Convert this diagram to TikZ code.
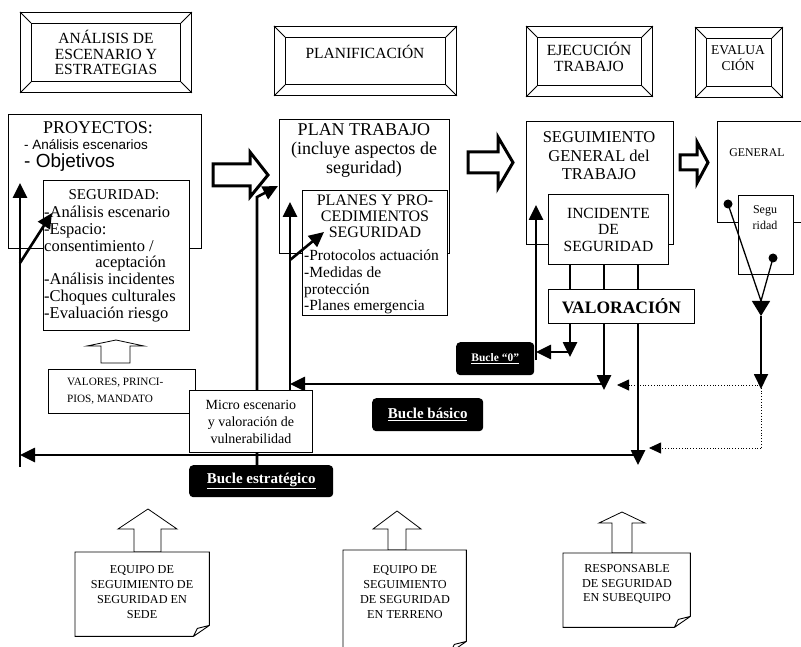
\documentclass[tikz,border=0pt]{standalone}
\usepackage{fontspec}
\setmainfont{Liberation Serif}
\newfontfamily\arialfont{Liberation Sans}
\usetikzlibrary{arrows.meta,positioning}
\newcommand\fsz[2]{\fontsize{#1}{#2}\selectfont}

\tikzset{
  box/.style={draw, fill=white, line width=0.9pt, anchor=north west, inner sep=0pt, align=center},
  hdr/.style={box, fill=none},
  frame/.style={line width=0.9pt},
  txt/.style={inner sep=0pt, align=center},
  ltxt/.style={inner sep=0pt, align=left, anchor=west},
  bucle/.style={fill=black, rounded corners=4pt, text=white, anchor=north west, inner sep=0pt},
  fatarrow/.style={draw, fill=white, line width=3pt, line join=miter},
  hollow/.style={draw, fill=white, line width=0.8pt},
  sheet/.style={anchor=north west, inner sep=0pt},
  feed/.style={line width=2.6pt, ->},
  rib/.style={line width=1.6pt},
  thinlink/.style={line width=1.3pt},
  blob/.style={circle, fill, inner sep=0pt, minimum size=9pt},
  dotline/.style={line width=0.8pt, dotted},
  dotarrow/.style={dotline, -{Triangle[length=12pt,width=11pt]}},
}

\begin{document}
\begin{tikzpicture}[x=1pt, y=-1pt, >={Triangle[length=15pt,width=14pt]}]

    % canvas
    \useasboundingbox (0,0) rectangle (801,647);
    \clip (0,0) rectangle (801,647);

    % header frames
    \node[hdr, minimum width=149, minimum height=58, font=\fsz{15.5}{15.5}] (analisis) at (31,23) {ANÁLISIS DE\\ESCENARIO Y\\ESTRATEGIAS};
    \node[hdr, minimum width=160, minimum height=47] (planif) at (285,37) {};
    \node[hdr, minimum width=104, minimum height=48] (ejecucion) at (537,37) {};
    \node[hdr, minimum width=65, minimum height=48] (evaluacion) at (706,38) {};
    \foreach \h in {analisis,planif,ejecucion,evaluacion}{
        \draw[frame] ([shift={(-11,-11)}]\h.north west) rectangle ([shift={(11,11)}]\h.south east);
        \draw[frame] (\h.north west) -- ++(-11,-11) (\h.north east) -- ++(11,-11)
            (\h.south west) -- ++(-11,11) (\h.south east) -- ++(11,11);
    }
    \node[txt, font=\fsz{15.5}{16}] (planif-t) at (365,52) {PLANIFICACIÓN};
    \node[txt, font=\fsz{15.5}{16}] (ejecucion-t) at (589,57) {EJECUCIÓN\\TRABAJO};
    \node[txt, font=\fsz{13.5}{16}] (evaluacion-t) at (738,58) {EVALUA\\CIÓN};

    % main boxes
    \node[box, minimum width=193, minimum height=134] (proyectos) at (8,114) {};
    \node[box, minimum width=146, minimum height=150] (seguridad) at (43,180) {};
    \node[box, minimum width=170, minimum height=134] (plan) at (279,119) {};
    \node[box, minimum width=145, minimum height=125] (planes) at (302,190) {};
    \node[box, minimum width=147, minimum height=123] (seguimiento) at (526,121) {};
    \node[box, minimum width=120, minimum height=70, font=\fsz{15.5}{16.5}] (incidente) at (548,194) {INCIDENTE\\DE\\SEGURIDAD};
    \node[box, minimum width=146, minimum height=34, font=\bfseries\fsz{17.5}{18}] (valoracion) at (548,289) {VALORACIÓN};
    \node[box, minimum width=100, minimum height=101] (general) at (717,121) {};
    \node[box, minimum width=55, minimum height=79] (segur) at (738,195) {};

    % texts of the boxes
    \node[txt, font=\fsz{18}{18}] (proyectos-t) at (98,128) {PROYECTOS:};
    \node[ltxt, font=\arialfont\fsz{13.5}{14}] (escen-t) at (24,145) {- Análisis escenarios};
    \node[ltxt, font=\arialfont\fsz{19}{19}] (objet-t) at (24,163) {- Objetivos};
    \node[txt, font=\fsz{15}{15}] (seguridad-t) at (114,195) {SEGURIDAD:};
    \node[ltxt, font=\fsz{16.5}{16.7}] (seglist-t) at (44,264)
        {-Análisis escenario\\-Espacio:\\consentimiento /\\\hspace*{3.1em}aceptación\\-Análisis incidentes\\-Choques culturales\\-Evaluación riesgo};
    \node[txt, font=\fsz{18}{19}] (plan-t) at (364,150) {PLAN TRABAJO\\(incluye aspectos de\\seguridad)};
    \node[txt, font=\fsz{16}{16}] (planes-t) at (375,216) {PLANES Y PRO-\\CEDIMIENTOS\\SEGURIDAD};
    \node[ltxt, font=\fsz{15.5}{16.7}] (planlist-t) at (304,282)
        {-Protocolos actuación\\-Medidas de\\protección\\-Planes emergencia};
    \node[txt, font=\fsz{16.5}{18.5}] (seguimiento-t) at (599,156) {SEGUIMIENTO\\GENERAL del\\TRABAJO};
    \node[txt, font=\fsz{11.8}{12}] (general-t) at (757,153) {GENERAL};
    \node[txt, font=\fsz{12}{16}] (segur-t) at (765,218) {Segu\\ridad};

    % hollow arrows between phases
    \draw[fatarrow] (213,164) -- (250,164) -- (250,152) -- (268,175) -- (250,197) -- (250,186) -- (213,186) -- cycle;
    \draw[fatarrow] (468,152) -- (498,152) -- (498,137) -- (513,162.5) -- (498,188) -- (498,173) -- (468,173) -- cycle;
    \draw[fatarrow] (680,155) -- (697,155) -- (697,142) -- (708,162.5) -- (697,183) -- (697,170) -- (680,170) -- cycle;

    % strategic loop
    \coordinate (strat-low) at (20,467);
    \coordinate (strat-top) at (20,183);
    \coordinate (strat-fork) at (20,263);
    \coordinate (seg-in) at (52,213);
    \draw[feed] (strat-low) -- (strat-top);
    \draw[feed] (strat-fork) -- (seg-in);

    \coordinate (micro-low) at (257,465);
    \coordinate (micro-bend) at (257,197);
    \coordinate (plan-in) at (278,186);
    \draw[feed] (micro-low) -- (micro-bend) -- (plan-in);

    % basic loop
    \coordinate (basic-low) at (290,390);
    \coordinate (basic-top) at (290,202);
    \coordinate (basic-fork) at (290,260);
    \coordinate (planes-in) at (324,232);
    \draw[feed] (basic-low) -- (basic-top);
    \draw[feed] (basic-fork) -- (planes-in);

    % loop "0"
    \coordinate (zero-low) at (536,360);
    \coordinate (zero-top) at (536,205);
    \draw[feed] (zero-low) -- (zero-top);

    % legs of VALORACION
    \coordinate (leg1) at (570,323);
    \coordinate (leg2) at (604,323);
    \coordinate (leg3) at (638,323);
    \foreach \i in {1,2,3}
        \draw[rib] (incidente.south -| leg\i) -- (valoracion.north -| leg\i);
    \coordinate (zero-fork) at (570,352);
    \coordinate (basic-fork2) at (604,384);
    \coordinate (strat-fork2) at (638,455);
    \draw[feed] (leg1) -- ++(0,34);
    \draw[feed] (zero-fork) -- (zero-fork -| zero-low);
    \draw[feed] (leg2) -- ++(0,67);
    \draw[feed] (basic-fork2) -- (basic-fork2 -| basic-low);
    \draw[feed] (leg3) -- ++(0,142);
    \draw[feed] (strat-fork2) -- (strat-fork2 -| strat-low);

    % evaluation side
    \node[blob] (dot-gen) at (728,204) {};
    \node[blob] (dot-seg) at (773,258) {};
    \coordinate (merge) at (761,301);
    \coordinate (eval-tip) at (761,316);
    \coordinate (eval-low) at (761,389);
    \coordinate (eval-fork) at (761,385);
    \coordinate (eval-end) at (761,448);
    \coordinate (basic-dot) at (617,385);
    \coordinate (strat-dot) at (649,448);
    \draw[thinlink] (dot-gen.center) -- (merge);
    \draw[thinlink] (dot-seg.center) -- (merge);
    \draw[thinlink, -{Triangle[length=15pt,width=18pt]}] (merge) -- (eval-tip);
    \draw[thinlink, line width=1.8pt, ->] (eval-tip) -- (eval-low);
    \draw[dotline] (eval-fork) -- (eval-end);
    \draw[dotarrow] (eval-fork) -- (basic-dot);
    \draw[dotarrow] (eval-end) -- (strat-dot);

    % values and micro scenario
    \draw[hollow] (101,363) -- (101,346) -- (87,346) -- (116,340) -- (144,346) -- (130,346) -- (130,363) -- cycle;
    \node[box, minimum width=147, minimum height=44] (valores) at (48,369) {};
    \node[ltxt, font=\fsz{11.2}{17}] (valores-t) at (67,391) {VALORES, PRINCI-\\PIOS, MANDATO};
    \node[box, minimum width=123, minimum height=62, font=\fsz{14}{17}] (micro) at (189,390) {Micro escenario\\y valoración de\\vulnerabilidad};

    % loop labels
    \node[bucle, minimum width=78, minimum height=33, font=\bfseries\fsz{11.5}{12}] (bucle0) at (456,342) {\underline{Bucle “0”}};
    \node[bucle, minimum width=111, minimum height=33, font=\bfseries\fsz{15}{15}] (bbasico) at (372,398) {\underline{Bucle básico}};
    \node[bucle, minimum width=144, minimum height=32, font=\bfseries\fsz{15}{15}] (bestrat) at (189,465) {\underline{Bucle estratégico}};

    % follow-up teams
    \draw[hollow] (134,552) -- (134,529) -- (118,529) -- (148,509) -- (177,529) -- (161,529) -- (161,552) -- cycle;
    \draw[hollow] (388,550) -- (388,529) -- (373,529) -- (397,511) -- (421,529) -- (406,529) -- (406,550) -- cycle;
    \draw[hollow] (612,553) -- (612,523) -- (599,523) -- (622,512) -- (645,523) -- (632,523) -- (632,553) -- cycle;
    \node[sheet, minimum width=134, minimum height=84] (sede) at (75,552) {};
    \node[sheet, minimum width=123, minimum height=102] (terreno) at (343,550) {};
    \node[sheet, minimum width=127, minimum height=74] (subequipo) at (563,553) {};
    \foreach \n in {sede,terreno,subequipo}
        \draw[frame, fill=white] (\n.north west) -- (\n.north east) -- ([yshift=11pt]\n.south east)
            -- ([xshift=-16pt]\n.south east) -- (\n.south west) -- cycle
            ([xshift=-16pt]\n.south east) -- ([xshift=-12pt,yshift=8pt]\n.south east) -- ([yshift=11pt]\n.south east);
    \node[txt, font=\fsz{12.2}{14.8}] (sede-t) at (142,592) {EQUIPO DE\\SEGUIMIENTO DE\\SEGURIDAD EN\\SEDE};
    \node[txt, font=\fsz{12.2}{14.8}] (terreno-t) at (405,592) {EQUIPO DE\\SEGUIMIENTO\\DE SEGURIDAD\\EN TERRENO};
    \node[txt, font=\fsz{12.2}{14.8}] (subequipo-t) at (627,584) {RESPONSABLE\\DE SEGURIDAD\\EN SUBEQUIPO};

\end{tikzpicture}
\end{document}
